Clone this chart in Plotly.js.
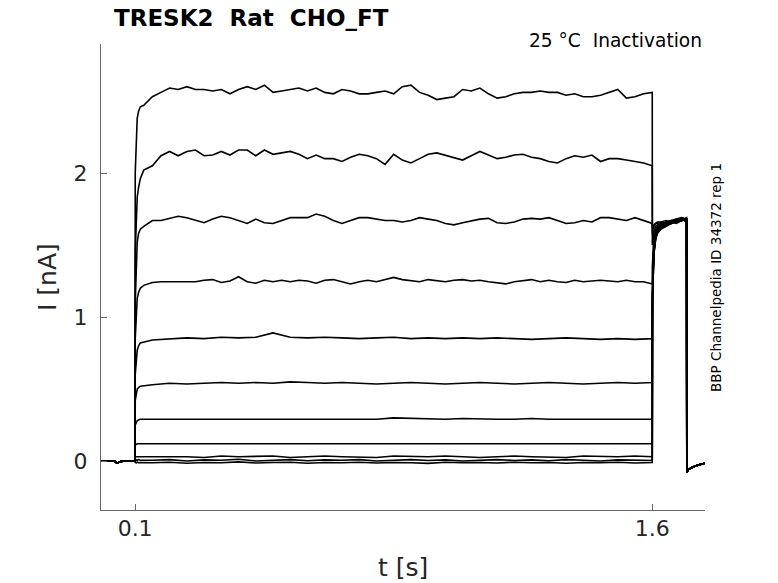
<!DOCTYPE html>
<html>
<head>
<meta charset="utf-8">
<script src="https://cdn.plot.ly/plotly-3.0.1.min.js"></script>
<style>
  body { margin: 0; background: #fff; }
  #plot { width: 778px; height: 583px; }
</style>
</head>
<body>
<div id="plot"></div>
<script>
// time points [s]
var tPre = [0, 0.02, 0.04, 0.046, 0.05, 0.055, 0.07, 0.09];
var preI = [0, 0, 0, -0.012, -0.015, -0.005, 0, 0];

var tOn = [0.1, 0.1003, 0.103, 0.106, 0.11, 0.115];

var tFine = [0.125, 0.15, 0.175, 0.2, 0.225, 0.25, 0.275, 0.3, 0.325, 0.35,
  0.375, 0.4, 0.425, 0.45, 0.475, 0.5, 0.525, 0.55, 0.575, 0.6,
  0.625, 0.65, 0.675, 0.7, 0.725, 0.75, 0.775, 0.8, 0.825, 0.85,
  0.875, 0.9, 0.925, 0.95, 0.975, 1.0, 1.025, 1.05, 1.075, 1.1,
  1.125, 1.15, 1.175, 1.2, 1.225, 1.25, 1.275, 1.3, 1.325, 1.35,
  1.375, 1.4, 1.425, 1.45, 1.475, 1.5, 1.525, 1.55, 1.575, 1.6];

var tCoarse = [0.15, 0.2, 0.25, 0.3, 0.35, 0.4, 0.45, 0.5, 0.55, 0.6,
  0.65, 0.7, 0.75, 0.8, 0.85, 0.9, 0.95, 1.0, 1.05, 1.1,
  1.15, 1.2, 1.25, 1.3, 1.35, 1.4, 1.45, 1.5, 1.55, 1.6];

var tTest = [1.6003, 1.602, 1.605, 1.61, 1.615, 1.625, 1.64, 1.655, 1.67, 1.685, 1.6995];

var tOff = [1.7003, 1.705, 1.715, 1.73, 1.753];
var offI = [-0.08, -0.06, -0.045, -0.03, -0.015];

// current [nA], one row per sweep
var onset1 = [0, 2.0, 2.25, 2.38, 2.43, 2.46];
var onset2 = [0, 1.45, 1.72, 1.83, 1.9, 1.96];
var onset3 = [0, 1.1, 1.42, 1.52, 1.58, 1.61];
var onset4 = [0, 0.85, 1.06, 1.13, 1.17, 1.2];
var onset5 = [0, 0.6, 0.72, 0.77, 0.8, 0.82];
var onset6 = [0, 0.42, 0.47, 0.5, 0.51, 0.52];
var onset7 = [0, 0.25, 0.27, 0.28, 0.285, 0.29];
var onset8 = [0, 0.11, 0.115, 0.12, 0.12, 0.12];
var onset9 = [0, 0.03, 0.03, 0.03, 0.035, 0.03];
var onset10 = [0, 0.005, 0.008, 0.005, 0.01, 0.005];
var onset11 = [0, -0.01, -0.012, -0.008, -0.012, -0.01];

var pulse1 = [2.47, 2.53, 2.56, 2.59, 2.58, 2.60, 2.58, 2.58, 2.57, 2.58,
  2.55, 2.58, 2.60, 2.58, 2.61, 2.56, 2.57, 2.58, 2.59, 2.57,
  2.59, 2.56, 2.55, 2.58, 2.57, 2.55, 2.55, 2.56, 2.57, 2.55,
  2.60, 2.61, 2.56, 2.54, 2.51, 2.52, 2.53, 2.58, 2.57, 2.59,
  2.55, 2.52, 2.53, 2.55, 2.56, 2.56, 2.57, 2.56, 2.56, 2.54,
  2.55, 2.53, 2.53, 2.54, 2.56, 2.58, 2.52, 2.53, 2.55, 2.56];
var pulse2 = [2.02, 2.05, 2.12, 2.15, 2.12, 2.15, 2.16, 2.12, 2.125, 2.15,
  2.125, 2.16, 2.16, 2.12, 2.16, 2.13, 2.14, 2.15, 2.13, 2.10,
  2.125, 2.10, 2.10, 2.08, 2.11, 2.13, 2.12, 2.10, 2.06, 2.13,
  2.09, 2.07, 2.10, 2.13, 2.14, 2.125, 2.11, 2.09, 2.12, 2.15,
  2.125, 2.10, 2.11, 2.125, 2.13, 2.11, 2.10, 2.08, 2.07, 2.10,
  2.12, 2.11, 2.125, 2.08, 2.10, 2.10, 2.09, 2.08, 2.07, 2.05];
var pulse3 = [1.63, 1.67, 1.67, 1.685, 1.70, 1.69, 1.67, 1.655, 1.68, 1.70,
  1.69, 1.67, 1.65, 1.68, 1.655, 1.65, 1.67, 1.69, 1.69, 1.69,
  1.715, 1.70, 1.67, 1.65, 1.67, 1.69, 1.69, 1.68, 1.67, 1.67,
  1.66, 1.67, 1.69, 1.68, 1.67, 1.65, 1.64, 1.655, 1.67, 1.68,
  1.685, 1.655, 1.65, 1.66, 1.68, 1.685, 1.68, 1.69, 1.67, 1.65,
  1.655, 1.67, 1.66, 1.69, 1.69, 1.68, 1.67, 1.69, 1.67, 1.65];
var pulse4 = [1.22, 1.24, 1.245, 1.245, 1.24, 1.245, 1.245, 1.255, 1.26, 1.24,
  1.25, 1.28, 1.245, 1.235, 1.255, 1.245, 1.255, 1.245, 1.255, 1.25,
  1.235, 1.255, 1.26, 1.245, 1.23, 1.245, 1.255, 1.245, 1.26, 1.275,
  1.26, 1.255, 1.245, 1.26, 1.25, 1.245, 1.255, 1.26, 1.25, 1.255,
  1.245, 1.24, 1.23, 1.245, 1.255, 1.26, 1.245, 1.255, 1.245, 1.24,
  1.255, 1.245, 1.25, 1.255, 1.25, 1.245, 1.255, 1.245, 1.245, 1.23];
var pulse5 = [0.84, 0.85, 0.855, 0.85, 0.86, 0.855, 0.86, 0.89, 0.86, 0.855,
  0.86, 0.855, 0.85, 0.855, 0.86, 0.85, 0.855, 0.85, 0.855, 0.85,
  0.855, 0.85, 0.845, 0.85, 0.855, 0.85, 0.845, 0.85, 0.845, 0.85];
var pulse6 = [0.53, 0.54, 0.535, 0.54, 0.545, 0.54, 0.545, 0.54, 0.55, 0.545,
  0.54, 0.545, 0.54, 0.535, 0.54, 0.545, 0.54, 0.535, 0.54, 0.545,
  0.54, 0.535, 0.54, 0.545, 0.54, 0.535, 0.54, 0.545, 0.54, 0.545];
var pulse7 = [0.29, 0.29, 0.295, 0.29, 0.29, 0.295, 0.29, 0.29, 0.29, 0.295,
  0.29, 0.29, 0.295, 0.29, 0.30, 0.295, 0.29, 0.29, 0.295, 0.29,
  0.29, 0.29, 0.295, 0.29, 0.29, 0.29, 0.295, 0.29, 0.29, 0.29];
var pulse8 = [0.12, 0.125, 0.12, 0.125, 0.125, 0.12, 0.125, 0.12, 0.125, 0.12,
  0.125, 0.125, 0.12, 0.125, 0.12, 0.125, 0.12, 0.125, 0.12, 0.125,
  0.12, 0.125, 0.12, 0.125, 0.12, 0.125, 0.12, 0.125, 0.12, 0.12];
var pulse9 = [0.03, 0.035, 0.03, 0.025, 0.035, 0.03, 0.03, 0.035, 0.025, 0.03,
  0.035, 0.03, 0.03, 0.025, 0.035, 0.03, 0.03, 0.035, 0.03, 0.025,
  0.03, 0.035, 0.03, 0.03, 0.025, 0.035, 0.03, 0.03, 0.035, 0.03];
var pulse10 = [0.005, 0.01, 0.0, 0.008, 0.005, 0.012, 0.0, 0.006, 0.01, 0.002,
  0.008, 0.005, 0.01, 0.0, 0.006, 0.01, 0.004, 0.008, 0.0, 0.006,
  0.01, 0.004, 0.008, 0.002, 0.01, 0.005, 0.0, 0.008, 0.006, 0.004];
var pulse11 = [-0.012, -0.008, -0.015, -0.01, -0.012, -0.006, -0.014, -0.01, -0.008, -0.015,
  -0.01, -0.012, -0.008, -0.014, -0.01, -0.012, -0.016, -0.008, -0.012, -0.01,
  -0.014, -0.008, -0.012, -0.01, -0.015, -0.01, -0.012, -0.008, -0.014, -0.01];

var test1 = [1.62, 1.63, 1.64, 1.65, 1.66, 1.66, 1.67, 1.66, 1.68, 1.69, 1.68];
var test2 = [1.58, 1.61, 1.63, 1.65, 1.65, 1.66, 1.65, 1.67, 1.68, 1.67, 1.68];
var test3 = [1.5, 1.56, 1.6, 1.63, 1.64, 1.65, 1.66, 1.67, 1.66, 1.69, 1.67];
var test4 = [1.35, 1.48, 1.56, 1.61, 1.63, 1.64, 1.66, 1.65, 1.67, 1.68, 1.66];
var test5 = [1.25, 1.42, 1.53, 1.6, 1.62, 1.64, 1.65, 1.66, 1.67, 1.67, 1.68];
var test6 = [1.2, 1.38, 1.5, 1.58, 1.61, 1.63, 1.65, 1.66, 1.66, 1.68, 1.67];
var test7 = [1.15, 1.35, 1.48, 1.57, 1.6, 1.63, 1.64, 1.65, 1.67, 1.67, 1.69];
var test8 = [1.12, 1.32, 1.46, 1.56, 1.6, 1.62, 1.64, 1.66, 1.66, 1.68, 1.67];
var test9 = [1.11, 1.31, 1.45, 1.55, 1.59, 1.62, 1.64, 1.65, 1.66, 1.67, 1.68];
var test10 = [1.1, 1.3, 1.45, 1.55, 1.59, 1.62, 1.63, 1.65, 1.67, 1.68, 1.67];
var test11 = [1.1, 1.29, 1.44, 1.54, 1.58, 1.61, 1.63, 1.66, 1.65, 1.67, 1.68];

var sweeps = [
  [onset1, tFine, pulse1, test1],
  [onset2, tFine, pulse2, test2],
  [onset3, tFine, pulse3, test3],
  [onset4, tFine, pulse4, test4],
  [onset5, tCoarse, pulse5, test5],
  [onset6, tCoarse, pulse6, test6],
  [onset7, tCoarse, pulse7, test7],
  [onset8, tCoarse, pulse8, test8],
  [onset9, tCoarse, pulse9, test9],
  [onset10, tCoarse, pulse10, test10],
  [onset11, tCoarse, pulse11, test11]
];

var fontName = 'DejaVu Sans';
var data = [];

for (var i = 0; i < sweeps.length; i++) {
  var s = sweeps[i];
  data.push({
    x: tPre.concat(tOn, s[1], tTest, tOff),
    y: preI.concat(s[0], s[2], s[3], offI),
    type: 'scatter',
    mode: 'lines',
    line: { color: '#000', width: 1.6 },
    hoverinfo: 'skip',
    showlegend: false
  });
}

var layout = {
  width: 778,
  height: 583,
  margin: { l: 101, r: 73, t: 44, b: 73 },
  paper_bgcolor: '#fff',
  plot_bgcolor: '#fff',
  font: { family: fontName, color: '#262626' },
  showlegend: false,
  title: {
    text: '<b>TRESK2  Rat  CHO_FT</b>',
    font: { family: fontName, size: 23, color: '#000' },
    xref: 'container',
    yref: 'container',
    x: 114 / 778,
    xanchor: 'left',
    y: 1 - 18 / 583,
    yanchor: 'middle'
  },
  xaxis: {
    range: [0.001, 1.753],
    tickvals: [0.1, 1.6],
    ticktext: ['0.1', '1.6'],
    ticks: 'inside',
    ticklen: 6,
    tickcolor: '#666',
    tickfont: { size: 22, color: '#262626' },
    ticklabelstandoff: -1,
    showline: true,
    linecolor: '#666',
    linewidth: 1,
    showgrid: false,
    zeroline: false,
    automargin: false
  },
  yaxis: {
    range: [-0.34, 2.896],
    tickvals: [0, 1, 2],
    ticktext: ['0', '1', '2'],
    ticks: 'inside',
    ticklen: 6,
    tickcolor: '#666',
    tickfont: { size: 22, color: '#262626' },
    ticklabelstandoff: 8,
    showline: true,
    linecolor: '#666',
    linewidth: 1,
    showgrid: false,
    zeroline: false,
    automargin: false
  },
  annotations: [
    {
      // x axis title
      text: 't [s]',
      xref: 'paper', yref: 'paper',
      x: 0.5, y: (510 - 567) / 466,
      xanchor: 'center', yanchor: 'middle',
      showarrow: false,
      font: { family: fontName, size: 25, color: '#262626' }
    },
    {
      // y axis title
      text: 'I [nA]',
      xref: 'paper', yref: 'paper',
      x: (47 - 101) / 604, y: 0.5,
      xanchor: 'center', yanchor: 'middle',
      textangle: -90,
      showarrow: false,
      font: { family: fontName, size: 25, color: '#262626' }
    },
    {
      text: '25 °C  Inactivation',
      xref: 'paper', yref: 'paper',
      x: (704 - 101) / 604, y: (510 - 41) / 466,
      xanchor: 'right', yanchor: 'middle',
      showarrow: false,
      font: { family: fontName, size: 18.6, color: '#000' }
    },
    {
      text: 'BBP Channelpedia ID 34372 rep 1',
      xref: 'paper', yref: 'paper',
      x: (716 - 101) / 604, y: (510 - 278) / 466,
      xanchor: 'center', yanchor: 'middle',
      textangle: -90,
      showarrow: false,
      font: { family: fontName, size: 13.5, color: '#000' }
    }
  ]
};

Plotly.newPlot('plot', data, layout, { staticPlot: true });
</script>
</body>
</html>
